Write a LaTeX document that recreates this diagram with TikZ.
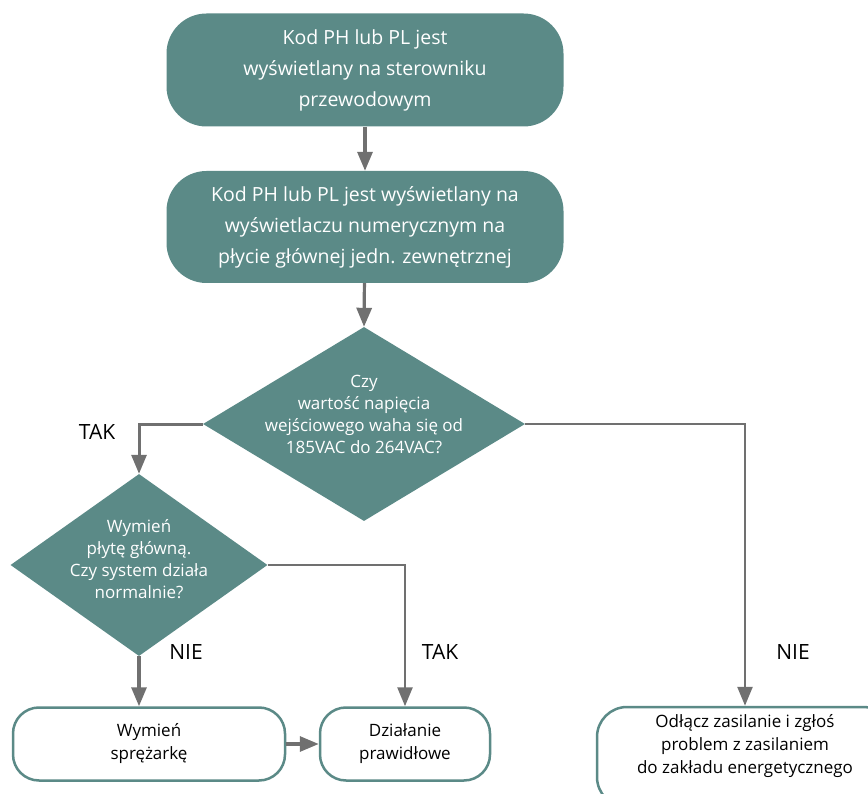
\documentclass[tikz,border=0pt]{standalone}
\usepackage{fontspec}
\setmainfont{Open Sans}
\usetikzlibrary{arrows.meta,positioning,shapes.geometric}
\definecolor{sea}{RGB}{91,138,135}
\definecolor{pipe}{RGB}{112,112,112}

\begin{document}
\begin{tikzpicture}[x=1pt,y=-1pt,
    stepfill/.style={fill=sea,text=white,rounded corners=40pt,minimum width=397pt,minimum height=113pt,
      align=center,font=\fontsize{19.5}{31}\selectfont},
    stepline/.style={draw=sea,line width=2.5pt,fill=white,rounded corners=26pt,minimum height=73pt,
      align=center,font=\fontsize{17}{23}\selectfont},
    query/.style={diamond,fill=sea,inner sep=0pt},
    querytext/.style={text=white,align=center,font=\fontsize{17}{22}\selectfont},
    flow/.style={draw=pipe,line width=3.2pt,-{Triangle[length=19pt,width=15pt]}},
    answer/.style={font=\fontsize{21}{24}\selectfont}]
  \useasboundingbox (0,0) rectangle (868,794);
  \node[stepfill] (wired) at (365,70) {Kod PH lub PL jest\\wyświetlany na sterowniku\\przewodowym};
  \node[stepfill,minimum height=112pt] (board) at (365,227) {Kod PH lub PL jest wyświetlany na\\wyświetlaczu numerycznym na\\płycie głównej jedn. zewnętrznej};
  \node[query,minimum width=322pt,minimum height=194pt] (volt) at (364,424) {};
  \node[querytext] (volttext) at (364,414) {Czy\\wartość napięcia\\wejściowego waha się od\\185VAC do 264VAC?};
  \node[query,minimum width=257pt,minimum height=182pt] (main) at (139,565) {};
  \node[querytext] (maintext) at (139,559) {Wymień\\płytę główną.\\Czy system działa\\normalnie?};
  \node[stepline,minimum width=272pt] (comp) at (149,744) {Wymień\\sprężarkę};
  \node[stepline,minimum width=170pt] (ok) at (405,744) {Działanie\\prawidłowe};
  \node[stepline,minimum width=296pt,minimum height=100pt,rounded corners=30pt] (power) at (745,757)
    {Odłącz zasilanie i zgłoś\\problem z zasilaniem\\do zakładu energetycznego\\[4pt]};
  \draw[flow] (wired) -- (board);
  \draw[flow] (board) -- (volt.north);
  \draw[flow,line width=3pt] (volt.west) -| (main.north);
  \draw[flow,line width=2.6pt] (volt.east) -| (power.north);
  \draw[flow,line width=2.6pt] (main.east) -| (ok.north);
  \draw[flow] (main.south) -- (main.south |- comp.north);
  \draw[flow] (comp) -- (ok);
  \node[answer] (yes1) at (97,432) {TAK};
  \node[answer] (no1) at (186,652) {NIE};
  \node[answer] (yes2) at (440,652) {TAK};
  \node[answer] (no2) at (793,652) {NIE};
\end{tikzpicture}
\end{document}
